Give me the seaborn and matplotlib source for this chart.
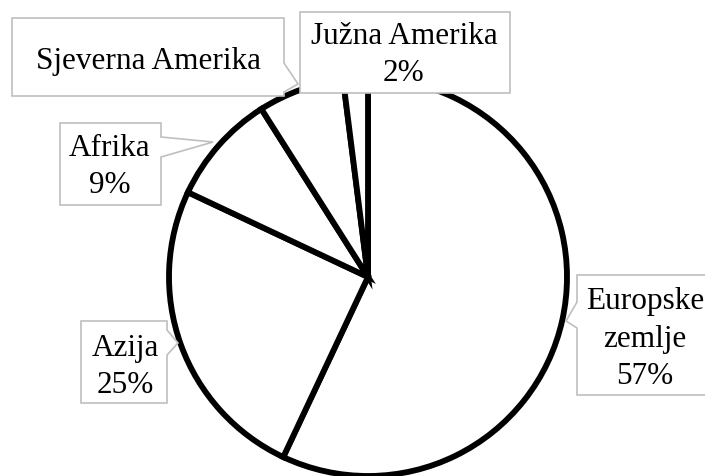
import matplotlib
matplotlib.use("Agg")
import matplotlib.pyplot as plt
from matplotlib.patches import Polygon
import seaborn as sns

# Share of each region (percent), drawn clockwise from 12 o'clock
regions = ["Europske\nzemlje", "Azija", "Afrika", "Sjeverna Amerika", "Južna Amerika"]
shares = [57, 25, 9, 7, 2]
show_share = [True, True, True, False, True]

sns.set_theme(style="white")
plt.rcParams["font.family"] = ["Liberation Serif", "DejaVu Serif"]

W, H = 705, 476
fig = plt.figure(figsize=(W / 100, H / 100), dpi=100)
fig.patch.set_facecolor("white")

# Pie placed in pixel space: centre (368, 277), radius 199
cx, cy, r = 368, 277, 199
ax = fig.add_axes([(cx - r) / W, (H - cy - r) / H, 2 * r / W, 2 * r / H])
wedges, _ = ax.pie(
    shares,
    startangle=90,
    counterclock=False,
    colors=["white"] * len(shares),
    wedgeprops=dict(edgecolor="black", linewidth=4.2, joinstyle="miter"),
)
for w in wedges:
    w.set_clip_on(False)
ax.set_xlim(-1, 1)
ax.set_ylim(-1, 1)
ax.axis("off")

# Overlay in pixel coordinates for the callout labels
ov = fig.add_axes([0, 0, 1, 1], zorder=5)
ov.set_xlim(0, W)
ov.set_ylim(H, 0)
ov.axis("off")
ov.patch.set_alpha(0)

TEXT = dict(ha="center", va="center", fontsize=22.5, color="black", linespacing=1.38)


def callout(box, side=None, base=None, tip=None):
    x0, y0, x1, y1 = box
    if side == "right":
        pts = [(x0, y0), (x1, y0), (x1, base[0]), tip, (x1, base[1]), (x1, y1), (x0, y1)]
    elif side == "left":
        pts = [(x0, y0), (x1, y0), (x1, y1), (x0, y1), (x0, base[1]), tip, (x0, base[0])]
    else:
        pts = [(x0, y0), (x1, y0), (x1, y1), (x0, y1)]
    ov.add_patch(Polygon(pts, closed=True, facecolor="white",
                         edgecolor="#BFBFBF", linewidth=1.2, clip_on=False))


def label_text(i):
    if show_share[i]:
        return f"{regions[i]}\n{shares[i]}%"
    return regions[i]


# Europske zemlje
callout((577, 275, 715, 395), "left", (302, 328), (566, 321))
ov.text(645, 339, label_text(0), **TEXT)
# Azija
callout((81, 321, 167, 403), "right", (330, 355), (178, 343))
ov.text(125, 367, label_text(1), **TEXT)
# Afrika
callout((60, 123, 161, 205), "right", (137, 157), (213, 142))
ov.text(110, 167, label_text(2), **TEXT)
# Južna Amerika
callout((300, 12, 510, 93))
ov.text(404, 55, label_text(4), **TEXT)
# Sjeverna Amerika
callout((12, 18, 284, 96), "right", (63, 92), (298, 84))
ov.text(148, 62, label_text(3), **TEXT)

fig.savefig("out.png", dpi=100, facecolor="white")
